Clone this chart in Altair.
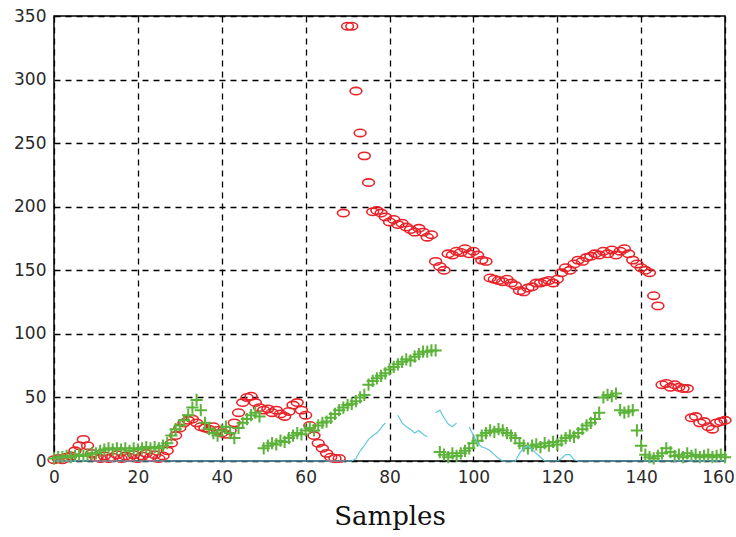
import altair as alt
import pandas as pd

# Sample index along the horizontal axis
samples = list(range(161))

# Red series (open ellipses)
red_vals = [
    1, 2, 1, 3, 4, 8, 12, 17, 12, 6,            # 0-9
    3, 2, 4, 2, 3, 5, 2, 4, 3, 5,               # 10-19
    2, 4, 6, 3, 5, 2, 4, 8, 14, 20,             # 20-29
    26, 30, 32, 33, 30, 27, 26, 25, 27, 24,     # 30-39
    22, 21, 24, 30, 38, 46, 50, 51, 46, 42,     # 40-49
    40, 41, 38, 40, 37, 35, 39, 44, 46, 40,     # 50-59
    36, 28, 20, 14, 10, 6, 3, 2, 2, 195,        # 60-69
    342, 342, 291, 258, 240, 219, 196, 197, 195, 192,  # 70-79
    188, 190, 186, 187, 184, 182, 180, 183, 180, 176,  # 80-89
    178, 157, 153, 150, 163, 162, 165, 164, 167, 163,  # 90-99
    165, 162, 158, 157, 144, 143, 142, 141, 143, 140,  # 100-109
    138, 134, 133, 136, 137, 140, 140, 141, 142, 140,  # 110-119
    143, 148, 152, 150, 155, 158, 157, 160, 161, 163,  # 120-129
    162, 165, 163, 166, 162, 165, 167, 163, 158, 155,  # 130-139
    152, 150, 148, 130, 122, 60, 61, 58, 60, 58,       # 140-149
    57, 57, 34, 35, 30, 31, 27, 25, 30, 31,            # 150-159
    32,                                                # 160
]

# Green series (plus markers)
green_vals = [
    2, 3, 3, 4, 3, 4, 5, 4, 5, 6,               # 0-9
    6, 8, 9, 10, 9, 10, 9, 10, 8, 10,           # 10-19
    9, 10, 11, 10, 11, 10, 12, 14, 20, 25,      # 20-29
    28, 32, 36, 42, 48, 40, 30, 25, 22, 20,     # 30-39
    24, 27, 22, 18, 26, 30, 33, 36, 38, 35,     # 40-49
    10, 12, 14, 13, 16, 15, 18, 20, 22, 21,     # 50-59
    24, 26, 24, 28, 30, 31, 34, 37, 40, 42,     # 60-69
    44, 45, 47, 50, 52, 60, 63, 65, 67, 69,     # 70-79
    72, 74, 76, 78, 80, 79, 82, 84, 86, 86,     # 80-89
    87, 87, 7, 5, 3, 6, 4, 6, 8, 10,            # 90-99
    14, 16, 20, 22, 24, 23, 25, 24, 22, 20,     # 100-109
    18, 14, 12, 10, 12, 13, 11, 14, 12, 15,     # 110-119
    13, 16, 18, 20, 19, 22, 25, 28, 30, 33,     # 120-129
    38, 50, 52, 51, 53, 40, 38, 39, 40, 24,     # 130-139
    12, 5, 3, 2, 4, 6, 10, 7, 4, 5,             # 140-149
    3, 6, 4, 5, 3, 4, 5, 3, 4, 5,               # 150-159
    3,                                          # 160
]

# Cyan series (thin line); None marks gaps in the trace
cyan_vals = [0] * 72 + [
    2, 8, 12, 17, 20, 22, 26, 30,               # 72-79
    None, None, 36, 30, 27, 25, 22, 24, 21, 19, # 80-89
    None, 38, 40, 34, 29, 27, 30, None, None, 27,  # 90-99
    20, 14, 11, 10, 8, 5, 2, 0, 0, 0,           # 100-109
    0, 6, 10, 12, 9, 6, 3, 0, 0, 0,             # 110-119
    0, 2, 5, 5, 1, 0, 0, 0, 0, 0,               # 120-129
] + [0] * 31                                    # 130-160

x_ticks = [0, 20, 40, 60, 80, 100, 120, 140, 160]
y_ticks = [0, 50, 100, 150, 200, 250, 300, 350]

RED = "#e8232a"
GREEN = "#5cb33a"
CYAN = "#62c8de"

points = pd.DataFrame({"sample": samples, "red": red_vals, "green": green_vals})

# split the cyan trace into connected runs so gaps stay open
cyan_rows = []
seg = 0
prev_none = False
for s, v in zip(samples, cyan_vals):
    if v is None:
        if not prev_none:
            seg += 1
        prev_none = True
        continue
    prev_none = False
    cyan_rows.append({"sample": s, "cyan": v, "seg": seg})
cyan_df = pd.DataFrame(cyan_rows)

x_scale = alt.Scale(domain=[0, 160], nice=False, zero=False, padding=0)
y_scale = alt.Scale(domain=[0, 350], nice=False, padding=0)
x_enc = alt.X(
    "sample:Q",
    scale=x_scale,
    axis=alt.Axis(
        values=x_ticks,
        title="Samples",
        grid=True,
        # nudge the last label inward so it stays on the canvas
        labelOffset={"condition": {"test": "datum.value == 160", "value": -7}, "value": 0},
    ),
)
y_axis = alt.Axis(values=y_ticks, title=None, grid=True)

ellipse = "M-1,0A1,0.62,0,1,1,1,0A1,0.62,0,1,1,-1,0Z"
plus = "M-1,0L1,0M0,-1L0,1"

red_layer = alt.Chart(points).mark_point(
    shape=ellipse, filled=False, color=RED, strokeWidth=1.6, size=140, opacity=1
).encode(x=x_enc, y=alt.Y("red:Q", scale=y_scale, axis=y_axis))

green_layer = alt.Chart(points).mark_point(
    shape=plus, filled=False, color=GREEN, strokeWidth=2, size=150, opacity=1
).encode(x=x_enc, y=alt.Y("green:Q", scale=y_scale, axis=y_axis))

cyan_layer = alt.Chart(cyan_df).mark_line(color=CYAN, strokeWidth=1.2).encode(
    x=x_enc,
    y=alt.Y("cyan:Q", scale=y_scale, axis=y_axis),
    detail="seg:N",
)

chart = (
    alt.layer(red_layer, green_layer, cyan_layer)
    .properties(
        width=671,
        height=445,
        autosize=alt.AutoSizeParams(type="none"),
        padding={"left": 54, "top": 16, "right": 11, "bottom": 76},
        background="white",
    )
    .configure_view(stroke="black", strokeWidth=1.5)
    .configure_axis(
        domain=False,
        ticks=False,
        grid=True,
        gridColor="black",
        gridDash=[6, 5],
        gridWidth=1.3,
        gridOpacity=1,
        labelFont="DejaVu Sans",
        labelFontSize=17,
        labelColor="#2a2a2a",
        labelFlush=False,
        labelOverlap=False,
    )
    .configure_axisX(labelPadding=8, titleFont="DejaVu Serif", titleFontSize=26,
                     titleFontWeight="normal", titleColor="#111", titlePadding=18)
    .configure_axisY(labelPadding=8)
)

chart.save("out.html", embed_options={"renderer": "svg", "actions": False})
